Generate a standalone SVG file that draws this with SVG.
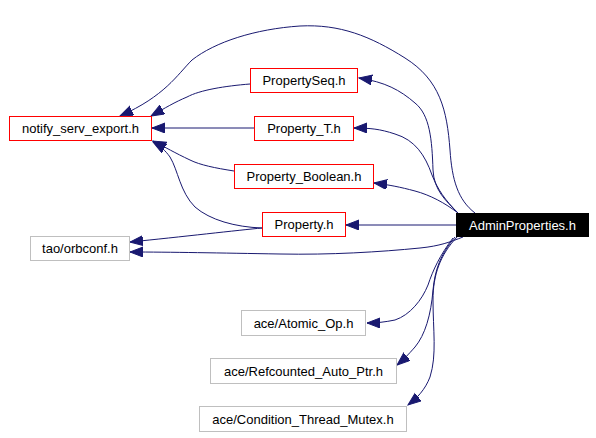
<svg xmlns="http://www.w3.org/2000/svg" width="596" height="438" viewBox="0 0 596 438">
<style>
.n rect{fill:#fff;stroke-width:1}
.r rect{stroke:#ff0000}
.g rect{stroke:#bfbfbf}
text{font-family:"Liberation Sans",Arial,sans-serif;font-size:13px;text-anchor:middle;fill:#000}
.e path{fill:none;stroke:#191970;stroke-width:1;marker-end:url(#ah)}
</style>
<defs>
<marker id="ah" markerUnits="userSpaceOnUse" markerWidth="14" markerHeight="11" refX="13" refY="5" orient="auto" viewBox="0 0 14 11">
<path d="M0,0 L13,5 L0,10 z" fill="#191970" stroke="#191970"/>
</marker>
</defs>
<rect width="596" height="438" fill="#fff"/>
<g id="edges" class="e">
<path d="M475,213 C458,200 452,180 450,150 C447,110 440,80 405,58 C370,36 340,24 300,26 C255,29 215,42 192,60 C177,75 165,96 120,116"/>
<path d="M458,213 C445,200 434,190 433,170 C432,140 430,115 415,103 C400,90 385,82 359,78"/>
<path d="M458,213 C445,200 438,190 432,175 C425,155 415,140 395,134 C380,129 370,128 354,128"/>
<path d="M458,213 C445,203 430,195 415,191 C400,187 390,185 374,183"/>
<path d="M456,225 L346,225"/>
<path d="M463,237 C450,242 440,246 420,248 C380,252 330,255 280,254 C220,253 170,252 130,252"/>
<path d="M262,228 C240,230 180,237 130,242"/>
<path d="M262,228 C235,227 210,220 195,207 C180,192 178,170 170,157 C165,150 160,146 153,142"/>
<path d="M250,84 C225,86 200,90 187,97 C175,102 165,108 151,116"/>
<path d="M254,128 L152,128"/>
<path d="M234,171 C215,168 200,165 190,160 C175,153 165,147 153,141"/>
<path d="M453,238 C440,255 433,270 428,285 C422,300 410,315 395,320 C385,322 377,323 367,323"/>
<path d="M455,237 C440,255 435,270 433,290 C431,315 425,335 415,347 C408,355 403,360 397,365"/>
<path d="M457,237 C440,255 433,275 433,300 C433,330 437,355 430,377 C425,390 417,398 408,405"/>
</g>
<g id="n_notify" class="n r"><rect x="9.5" y="116.5" width="142" height="24"/><text x="80.5" y="133">notify_serv_export.h</text></g>
<g id="n_orbconf" class="n g"><rect x="30.5" y="236.5" width="99" height="24"/><text x="80" y="253">tao/orbconf.h</text></g>
<g id="n_propseq" class="n r"><rect x="250.5" y="68.5" width="107" height="24"/><text x="304" y="85">PropertySeq.h</text></g>
<g id="n_propt" class="n r"><rect x="254.5" y="116.5" width="99" height="24"/><text x="304" y="133">Property_T.h</text></g>
<g id="n_propbool" class="n r"><rect x="234.5" y="164.5" width="139" height="24"/><text x="304" y="181">Property_Boolean.h</text></g>
<g id="n_prop" class="n r"><rect x="262.5" y="212.5" width="83" height="24"/><text x="304" y="229">Property.h</text></g>
<g id="n_admin"><rect x="456" y="213" width="133" height="24" fill="#000"/><text x="522.5" y="229.5" fill="#fff" style="fill:#fff">AdminProperties.h</text></g>
<g id="n_atomic" class="n g"><rect x="241.5" y="310.5" width="124" height="25"/><text x="303.5" y="328">ace/Atomic_Op.h</text></g>
<g id="n_refc" class="n g"><rect x="210.5" y="358.5" width="186" height="25"/><text x="303.5" y="376">ace/Refcounted_Auto_Ptr.h</text></g>
<g id="n_cond" class="n g"><rect x="199.5" y="406.5" width="207" height="25"/><text x="303" y="424">ace/Condition_Thread_Mutex.h</text></g>
</svg>
